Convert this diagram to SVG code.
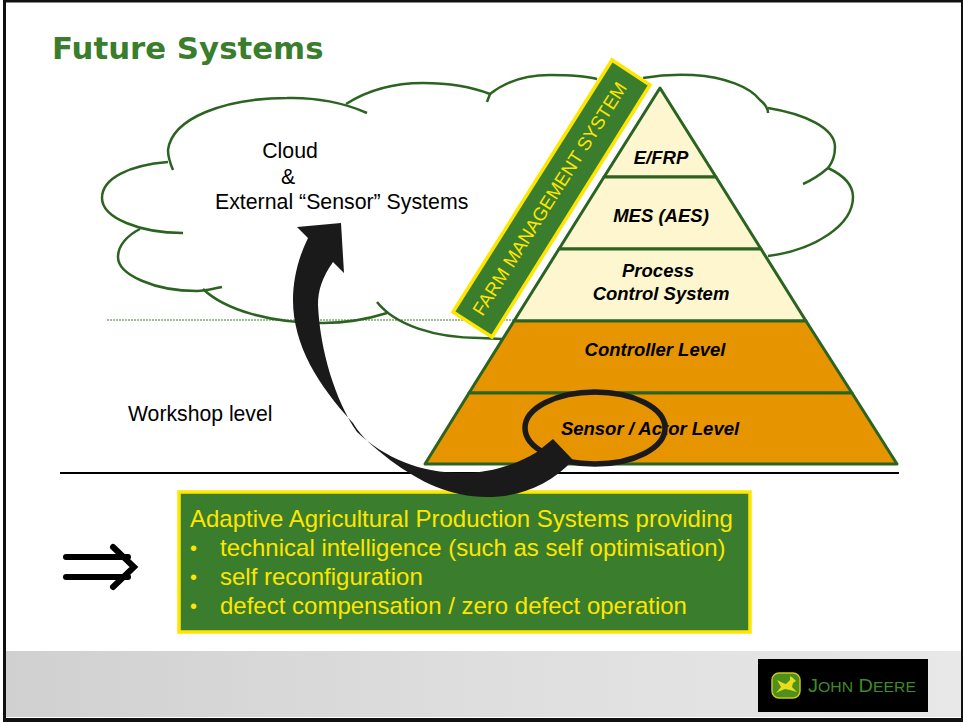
<svg xmlns="http://www.w3.org/2000/svg" width="963" height="722" viewBox="0 0 963 722">
<defs>
<linearGradient id="foot" x1="0" y1="0" x2="1" y2="0"><stop offset="0" stop-color="#d0d0d0"/><stop offset="0.5" stop-color="#dedede"/><stop offset="1" stop-color="#e8e8e8"/></linearGradient>
</defs>
<style>
.a{font-family:"Liberation Sans",Arial,sans-serif}
.p{font-family:"Liberation Sans",Arial,sans-serif;font-size:18.5px;font-weight:bold;font-style:italic;fill:#000;text-anchor:middle}
.c{fill:none;stroke:#2b6320;stroke-width:2.5}
.t{fill:#fdf6cf;stroke:#2b6320;stroke-width:3;stroke-linejoin:round}
.o{fill:#e69500;stroke:#2b6320;stroke-width:3;stroke-linejoin:round}
.b{font-family:"Liberation Sans",Arial,sans-serif;font-size:24px;fill:#ffe600}
.d{font-family:"Liberation Sans",Arial,sans-serif;font-size:20px;fill:#ffe600}
</style>
<rect width="963" height="722" fill="#fff"/>
<rect x="6" y="651" width="955" height="66" fill="url(#foot)"/>
<g id="frame" fill="#111">
<rect x="3" y="0" width="960" height="2.5"/>
<rect x="3" y="0" width="3" height="722"/>
<rect x="961" y="0" width="2" height="722"/>
<rect x="3" y="718" width="960" height="4"/>
</g>
<text id="title" x="52" y="59" font-family="'DejaVu Sans',Verdana,sans-serif" font-weight="bold" font-size="30.8" fill="#3a7d2c">Future Systems</text>
<line id="dotted" x1="107" y1="320" x2="516" y2="320" stroke="#3a7d2c" stroke-width="1" stroke-dasharray="2 1"/>
<g id="cloud">
<path class="c" d="M173,170 C170,163 168,157 168,150 C172,118 225,98 287,98 C315,97 345,103 367,113"/>
<path class="c" d="M346,104 C368,90 395,83 423,83 C450,83 472,87 490,94 C489,97 488,99 487,102"/>
<path class="c" d="M490,94 C505,82 525,75 550,75 C570,75 585,76 597,79"/>
<path class="c" d="M643,78 C660,75 675,74 693,75 C725,77 750,87 760,100 C765,104 768,108 768,113"/>
<path class="c" d="M768,108 C805,114 835,128 835,147 C835,155 832,163 828,168 C820,175 812,180 803,184"/>
<path class="c" d="M828,168 C843,175 853,185 853,197 C853,225 815,250 768,256"/>
<path class="c" d="M377,302 C395,325 435,338 480,338 L502,339"/>
<path class="c" d="M387,313 C365,320 345,323 323,323 C270,323 225,310 203,289"/>
<path class="c" d="M222,287 C212,289 205,291 197,291 C155,291 118,275 118,257 C118,245 128,235 140,229"/>
<path class="c" d="M183,233 C140,233 102,218 102,198 C102,178 130,165 168,162"/>
</g>
<text class="a" x="290" y="158" font-size="21.3" text-anchor="middle">Cloud</text>
<text class="a" x="288" y="184" font-size="21.3" text-anchor="middle">&amp;</text>
<text class="a" x="215" y="209" font-size="21.3">External “Sensor” Systems</text>
<text id="workshop" class="a" x="128" y="421" font-size="21.2">Workshop level</text>
<g id="farm-management">
<polygon points="612,60 650,85 492,337 453,312" fill="#3a7d2c" stroke="#ffe600" stroke-width="3.5" stroke-linejoin="miter"/>
<text class="a" transform="translate(550,199) rotate(-57.7)" x="0" y="6" font-size="18.6" fill="#ffe600" text-anchor="middle">FARM MANAGEMENT SYSTEM</text>
</g>
<g id="efrp"><polygon class="t" points="660,88 716,177 604,177"/><text class="p" x="661" y="164">E/FRP</text></g>
<g id="mes"><polygon class="t" points="604,177 716,177 761,249 559,249"/><text class="p" x="661" y="222">MES (AES)</text></g>
<g id="process"><polygon class="t" points="559,249 761,249 806,321 514,321"/><text class="p" x="658" y="277">Process</text><text class="p" x="661" y="300">Control System</text></g>
<g id="controller"><polygon class="o" points="514,321 806,321 852,393 469,393"/><text class="p" x="655" y="355.500">Controller Level</text></g>
<g id="sensor"><polygon class="o" points="469,393 852,393 897,464 425,464"/><text class="p" x="650" y="434.500">Sensor / Actor Level</text></g>
<ellipse id="highlight" cx="595" cy="428" rx="70" ry="36" fill="none" stroke="#1a1a1a" stroke-width="5.5"/>
<line id="rule" x1="60" y1="473" x2="899" y2="473" stroke="#000" stroke-width="2"/>
<g id="features">
<rect x="179" y="492" width="571" height="140" fill="#3a7d2c" stroke="#ffe600" stroke-width="3.5"/>
<text class="b" x="190" y="527">Adaptive Agricultural Production Systems providing</text>
<text class="d" x="190" y="555">•</text><text class="b" x="220" y="556">technical intelligence (such as self optimisation)</text>
<text class="d" x="190" y="584">•</text><text class="b" x="220" y="585">self reconfiguration</text>
<text class="d" x="190" y="613">•</text><text class="b" x="220" y="614">defect compensation / zero defect operation</text>
</g>
<g id="connectors">
<path id="curved-arrow" fill="#1a1a1a" d="M297,227 L341,223 L344,273 L333,262 C322,278 318,290 318,305 C320,350 335,400 357,432 C385,458 420,473 463,473 C490,473 515,465 537,452 L553,439 L573,460 C550,485 520,497 487,497 C450,497 420,482 390,460 C375,448 362,438 353,423 C318,385 293,345 293,300 C293,280 298,258 308,238 Z"/>
<path id="implies" fill="none" stroke="#000" stroke-width="6" stroke-linecap="round" stroke-linejoin="miter" d="M66,557 H128 M66,577 H128 M113,547 L134,567 L113,587"/>
</g>
<g id="logo">
<rect x="758" y="659" width="170" height="53" fill="#000"/>
<rect x="772" y="673" width="28" height="25" rx="7" fill="#4f8f1c" stroke="#c9c81e" stroke-width="1.5"/>
<path d="M776,693 L781,687 L777,680 L783,683 L786,684 L790,680 L790,676 L793,678 L796,681 L793,683 L792,687 L797,692 L790,690 L785,689 L780,691 Z" fill="#e8dc1c"/>
<text x="808" y="692" font-family="'Liberation Sans',Arial,sans-serif" font-size="19" fill="#3f8a2a" textLength="108" lengthAdjust="spacingAndGlyphs">J<tspan font-size="15">OHN</tspan> D<tspan font-size="15">EERE</tspan></text>
</g>
</svg>
